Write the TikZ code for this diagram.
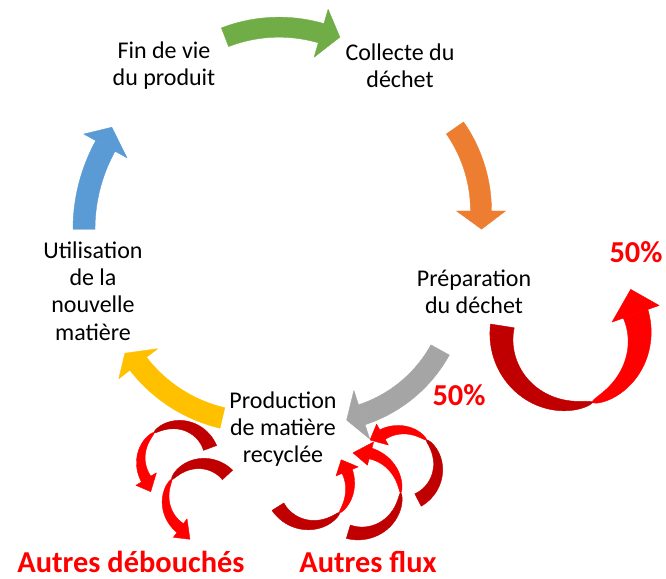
\documentclass[tikz,border=0pt]{standalone}
\usepackage{fontspec}
\setmainfont{Carlito}
\definecolor{cgreen}{HTML}{70AD47}
\definecolor{corange}{HTML}{ED7D31}
\definecolor{cgrey}{HTML}{A5A5A5}
\definecolor{cyellow}{HTML}{FFC000}
\definecolor{cblue}{HTML}{5B9BD5}
\definecolor{dkred}{HTML}{C00000}
\definecolor{brred}{HTML}{FF0000}
% band along a circle: style, centre, radius, start angle, end angle, half-width expression in \x
\newcommand\arcband[6]{\path[#1,shift={(#2)}] plot[domain=#4:#5,samples=40] (\x:{#3+(#6)}) -- plot[domain=#5:#4,samples=40] (\x:{#3-(#6)}) -- cycle;}
% arrow head: style, centre, radius, base angle, tip angle, tip radius, half-width
\newcommand\archead[7]{\path[#1,shift={(#2)}] (#4:{#3+#7}) -- (#5:#6) -- (#4:{#3-#7}) -- cycle;}
\begin{document}
\begin{tikzpicture}[x=0.75pt,y=0.75pt,
  arr/.style={fill=#1,draw=#1,line width=0.3pt,line join=round},
  lbl/.style={font=\fontsize{18}{20.3}\selectfont,align=center,text=black},
  big/.style={font=\fontsize{22.8}{26}\selectfont\bfseries,text=brred,inner sep=0pt}]
\useasboundingbox (0,0) rectangle (666,578);

% main cycle arrows
\arcband{arr=cgreen}{279,400.8}{150}{111.1}{73.7}{10}
\archead{arr=cgreen}{279,400.8}{150}{73.7}{66.5}{152.7}{25}

\arcband{arr=corange}{335.5,367}{145.5}{34.8}{0}{10.5}
\archead{arr=corange}{335.5,367}{145.5}{0}{-7.1}{147.2}{24.5}

\arcband{arr=cgrey}{318.7,295.1}{138.7}{-28.9}{-71.9}{10.5}
\archead{arr=cgrey}{318.7,295.1}{138.7}{-71.9}{-78.5}{140}{25.5}

\arcband{arr=cyellow}{256.9,306}{150}{256.7}{217.7}{10.5}
\archead{arr=cyellow}{256.9,306}{150}{217.7}{211.6}{155}{24.6}

\arcband{arr=cblue}{257,348.7}{173}{180}{151.2}{11}
\archead{arr=cblue}{257,348.7}{173}{151.2}{144.9}{177.5}{24.7}

% big red ribbon arrow (right)
\arcband{arr=dkred}{570.5,241.3}{69}{171}{288.5}{12*sqrt((288.5-(\x))/117.5+0.002)}
\arcband{arr=brred}{570.5,241.3}{69}{288.5}{379.4}{13*sqrt(((\x)-288.5)/90.9+0.002)}
\archead{arr=brred}{570.5,241.3}{69}{379.4}{398.2}{76.6}{25}

% small red ribbons, left
\arcband{arr=dkred}{176.6,117.6}{35.7}{20.4}{129}{7*sqrt((129-(\x))/108.6+0.002)}
\arcband{arr=brred}{176.6,117.6}{35.7}{129}{211.5}{5.5*sqrt(((\x)-129)/82.5+0.002)}
\archead{arr=brred}{176.6,117.6}{35.7}{211.5}{230.4}{40.6}{12}

\arcband{arr=dkred}{201.4,78.7}{35.7}{43}{146}{7*sqrt((146-(\x))/103+0.002)}
\arcband{arr=brred}{201.4,78.7}{35.7}{146}{233.6}{5.5*sqrt(((\x)-146)/87.6+0.002)}
\archead{arr=brred}{201.4,78.7}{35.7}{233.6}{254}{41.6}{11.5}

% small red ribbons, right
\arcband{arr=dkred}{400.8,111}{37.2}{-62.5}{46.6}{7*sqrt((46.6-(\x))/109.1+0.002)}
\arcband{arr=brred}{400.8,111}{37.2}{46.6}{119.5}{5.5*sqrt(((\x)-46.6)/72.9+0.002)}
\archead{arr=brred}{400.8,111}{37.2}{119.5}{138.8}{41}{12}

\arcband{arr=dkred}{360,85.2}{40.6}{-106.7}{0}{7*sqrt((0-(\x))/106.7+0.002)}
\arcband{arr=brred}{360,85.2}{40.6}{0}{75}{5.5*sqrt(((\x)-0)/75+0.002)}
\archead{arr=brred}{360,85.2}{40.6}{75}{100}{40.6}{12}

\arcband{arr=dkred}{311,92}{39}{212}{317}{7*sqrt((317-(\x))/105+0.002)}
\arcband{arr=brred}{311,92}{39}{317}{382}{5.5*sqrt(((\x)-317)/65+0.002)}
\archead{arr=brred}{311,92}{39}{382}{401}{40}{12}

% labels
\node[lbl] (fin) at (164,512.3) {Fin de vie\\du produit};
\node[lbl] (col) at (400,512.3) {Collecte du\\déchet};
\node[lbl] (prep) at (474,286.5) {Préparation\\du déchet};
\node[lbl] (prod) at (283,148.5) {Production\\de matière\\recyclée};
\node[lbl] (util) at (93,286.8) {Utilisation\\de la\\nouvelle\\matière};
\node[big] (p1) at (636,326) {50\%};
\node[big] (p2) at (459,183) {50\%};
\node[big,anchor=base] (ad) at (131,6) {Autres débouchés};
\node[big,anchor=base] (af) at (368,6) {Autres flux};
\end{tikzpicture}
\end{document}
